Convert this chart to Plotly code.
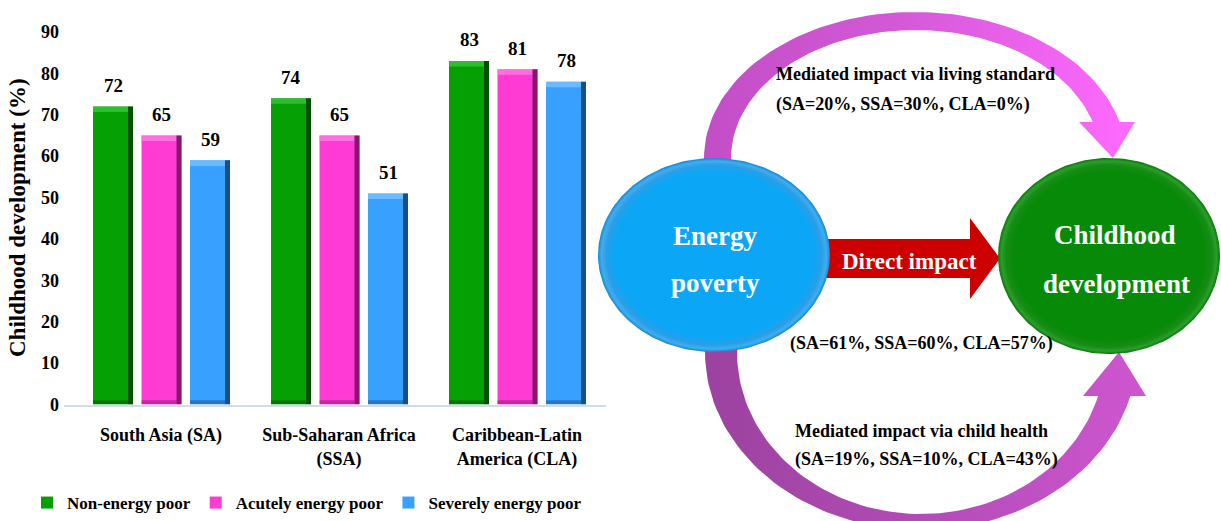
import numpy as np
import plotly.graph_objects as go

W, H = 1221, 521
SERIF = "Liberation Serif"

# ---------------- bar chart data ----------------
region_index = [0, 1, 2]
region_labels = ["South Asia (SA)", "Sub-Saharan Africa<br>(SSA)", "Caribbean-Latin<br>America (CLA)"]
series_names = ["Non-energy poor", "Acutely energy poor", "Severely energy poor"]
non_energy_poor = [72, 74, 83]
acutely_energy_poor = [65, 65, 81]
severely_energy_poor = [59, 51, 78]
y_tick_values = [0, 10, 20, 30, 40, 50, 60, 70, 80, 90]
y_title = "Childhood development (%)"

# ---------------- pathway diagram text ----------------
source_label = ["Energy", "poverty"]
outcome_label = ["Childhood", "development"]
direct_label = "Direct impact"
living_standard_label = "Mediated impact via living standard"
child_health_label = "Mediated impact via child health"
living_standard_shares = ["SA=20%", "SSA=30%", "CLA=0%"]
direct_shares = ["SA=61%", "SSA=60%", "CLA=57%"]
child_health_shares = ["SA=19%", "SSA=10%", "CLA=43%"]

# ---------------- styling ----------------
series_styles = [
    dict(face="#04A004", bevel="#3FC63F", shade="#012E01"),
    dict(face="#FF3BD3", bevel="#FF80E5", shade="#560745"),
    dict(face="#38A0FF", bevel="#7AC3FF", shade="#0A2C52"),
]
BAR_W = 0.2247          # bar width in category units
BAR_OFFSETS = [-0.382, -0.1095, 0.163]
EDGE_W = 0.028          # dark right-hand edge of each bar
BEVEL_H = 1.35          # light bevel strip on bar tops (data units)

fig = go.Figure()

series_values = [non_energy_poor, acutely_energy_poor, severely_energy_poor]
for name, vals, sty, off in zip(series_names, series_values, series_styles, BAR_OFFSETS):
    fig.add_bar(x=region_index, y=vals, width=BAR_W, offset=off, name=name,
                marker=dict(color=sty["face"], line_width=0), hoverinfo="skip")
    fig.add_bar(x=region_index, y=[BEVEL_H] * len(vals), base=[v - BEVEL_H for v in vals],
                width=BAR_W - EDGE_W, offset=off, showlegend=False, hoverinfo="skip",
                marker=dict(color=sty["bevel"], opacity=0.75, line_width=0))
    fig.add_bar(x=region_index, y=vals, width=EDGE_W, offset=off + BAR_W - EDGE_W,
                showlegend=False, hoverinfo="skip",
                marker=dict(color=sty["shade"], opacity=0.7, line_width=0))
    fig.add_bar(x=region_index, y=[1.0] * len(vals), base=[0] * len(vals),
                width=BAR_W - EDGE_W, offset=off, showlegend=False, hoverinfo="skip",
                marker=dict(color=sty["shade"], opacity=0.35, line_width=0))

annotations = []
for vals, off in zip(series_values, BAR_OFFSETS):
    for xi, v in zip(region_index, vals):
        annotations.append(dict(x=xi + off + BAR_W / 2, y=v, xref="x", yref="y", text=str(v),
                                showarrow=False, yshift=21, yanchor="middle",
                                font=dict(size=19, family=SERIF, weight="bold")))

annotations.append(dict(x=18 / W, y=(H - 218) / H, xref="paper", yref="paper", text=y_title,
                        textangle=-90, showarrow=False, xanchor="center", yanchor="middle",
                        font=dict(size=23, family=SERIF, weight="bold")))


# ---------------- pathway diagram (pixel-space subplot) ----------------
def ellipse_arc(cx, cy, rx, ry, t0, t1, sign, n=90):
    t = np.linspace(t0, t1, n)
    return cx + rx * np.cos(t), cy + sign * ry * np.sin(t)


def curved_arrow(outer, inner, y_start, y_end, head, sign):
    """Band between two elliptical arcs, ending in a triangular head."""
    xs, ys = [], []
    for (cx, cy, rx, ry), rev in ((outer, False), (inner, True)):
        t_s = np.pi - np.arcsin((y_start - cy) / (sign * ry))
        t_e = np.arcsin((y_end - cy) / (sign * ry))
        ax, ay = ellipse_arc(cx, cy, rx, ry, t_s, t_e, sign)
        if rev:
            ax, ay = ax[::-1], ay[::-1]
        xs.append(list(ax))
        ys.append(list(ay))
    hx = [p[0] for p in head]
    hy = [p[1] for p in head]
    x = xs[0] + hx + xs[1] + [xs[0][0]]
    y = ys[0] + hy + ys[1] + [ys[0][0]]
    return x, y


def ellipse(cx, cy, rx, ry, n=180):
    return ellipse_arc(cx, cy, rx, ry, 0, 2 * np.pi, -1, n)


diagram = dict(xaxis="x2", yaxis="y2", mode="lines", line=dict(width=0),
               fill="toself", showlegend=False, hoverinfo="skip")

# upper arrow: living standard pathway
ux, uy = curved_arrow(outer=(915, 158, 211, 146), inner=(915.6, 158, 184.6, 128),
                      y_start=172, y_end=122,
                      head=[(1135, 122), (1113, 158), (1079, 122)], sign=-1)
fig.add_scatter(x=ux, y=uy, **diagram,
                fillgradient=dict(type="horizontal",
                                  colorscale=[[0, "#C24EC6"], [0.45, "#D359D6"], [1, "#FF6AFF"]]))

# lower arrow: child health pathway
lx, ly = curved_arrow(outer=(921, 352, 216, 178), inner=(921, 352, 184, 162),
                      y_start=338, y_end=396,
                      head=[(1146, 396), (1119, 352), (1083, 396)], sign=1)
fig.add_scatter(x=lx, y=ly, **diagram,
                fillgradient=dict(type="horizontal",
                                  colorscale=[[0, "#9C42A0"], [0.5, "#B24CB6"], [1, "#CE56D0"]]))

# direct impact arrow
fig.add_scatter(x=[800, 970, 970, 1000, 970, 970, 800, 800],
                y=[239, 239, 218, 258.5, 299, 278, 278, 239],
                fillcolor="#CC0000", **diagram)

# source and outcome ovals
bx, by = ellipse(714, 255, 116, 97)
fig.add_scatter(x=bx, y=by, **diagram,
                fillgradient=dict(type="radial",
                                  colorscale=[[0, "#0CA6F6"], [0.86, "#0CA6F6"], [0.93, "#2A9EE6"],
                                              [0.97, "#3FAEF0"], [1, "#1488D2"]]))
gx, gy = ellipse(1109, 256, 111, 98)
fig.add_scatter(x=gx, y=gy, **diagram,
                fillgradient=dict(type="radial",
                                  colorscale=[[0, "#078A07"], [0.86, "#078A07"], [0.93, "#168C16"],
                                              [0.97, "#2A9E2A"], [1, "#0A760A"]]))


def label(x, y, text, size, color="black", anchor="center"):
    annotations.append(dict(x=x, y=y, xref="x2", yref="y2", text=text, showarrow=False,
                            xanchor=anchor, yanchor="middle",
                            font=dict(size=size, color=color, family=SERIF, weight="bold")))


label(715, 236, source_label[0], 27, "white")
label(715, 283, source_label[1], 27, "white")
label(1115, 235, outcome_label[0], 27, "white")
label(1116, 284, outcome_label[1], 27, "white")
label(909, 261, direct_label, 23, "white")
label(774, 74, living_standard_label, 18, anchor="left")
label(774, 104, "(" + ", ".join(living_standard_shares) + ")", 18, anchor="left")
label(788, 343, "(" + ", ".join(direct_shares) + ")", 18, anchor="left")
label(793, 431, child_health_label, 18, anchor="left")
label(793, 459, "(" + ", ".join(child_health_shares) + ")", 18, anchor="left")

fig.update_layout(
    width=W, height=H, margin=dict(l=0, r=0, t=0, b=0, autoexpand=False),
    paper_bgcolor="white", plot_bgcolor="rgba(0,0,0,0)",
    barmode="overlay", hovermode=False,
    font=dict(family=SERIF, size=17, color="black", weight="bold"),
    legend=dict(orientation="h", x=27 / W, y=(H - 503) / H, xanchor="left", yanchor="middle",
                font=dict(size=17, family=SERIF, weight="bold"), bgcolor="rgba(0,0,0,0)"),
    xaxis=dict(domain=[64 / W, 606 / W], range=[-0.545, 2.5], tickvals=region_index,
               ticktext=region_labels, showgrid=False, zeroline=False, showline=True,
               linecolor="#CFDCEA", linewidth=2, ticks="", ticklabelstandoff=13,
               tickfont=dict(size=18, family=SERIF, weight="bold"), fixedrange=True),
    yaxis=dict(domain=[(H - 404.5) / H, (H - 32) / H], range=[0, 90], tickvals=y_tick_values,
               showgrid=False, zeroline=False, showline=False, ticks="", ticklabelstandoff=4,
               tickfont=dict(size=18, family=SERIF, weight="bold"), fixedrange=True),
    xaxis2=dict(domain=[0, 1], range=[0, W], visible=False, anchor="y2", fixedrange=True),
    yaxis2=dict(domain=[0, 1], range=[H, 0], visible=False, anchor="x2", fixedrange=True),
    annotations=annotations,
)

fig.write_html("out.html")
